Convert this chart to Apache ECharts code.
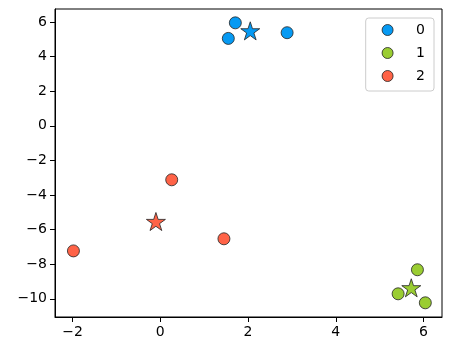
<!DOCTYPE html>
<html>
<head>
<meta charset="utf-8">
<script src="https://cdn.jsdelivr.net/npm/echarts@6/dist/echarts.min.js"></script>
<style>html,body{margin:0;padding:0;background:#fff}#c{width:452px;height:352px}</style>
</head>
<body>
<div id="c"></div>
<script>
const clusterNames = ['0', '1', '2'];
const clusterColors = ['#069AF3', '#9ACD32', '#FF6347'];
const points0 = [[1.71, 5.95], [1.55, 5.05], [2.89, 5.38]];
const points1 = [[5.86, -8.32], [5.42, -9.71], [6.04, -10.23]];
const points2 = [[0.26, -3.12], [-1.98, -7.23], [1.45, -6.53]];
const centroids = [[2.05, 5.43], [5.72, -9.42], [-0.10, -5.59]];
const xTicks = [-2, 0, 2, 4, 6];
const yTicks = [-10, -8, -6, -4, -2, 0, 2, 4, 6];
const xRange = [-2.40, 6.42];
const yRange = [-11.05, 6.75];

const starPath = 'path://M0,-100L22.45,-30.9L95.1,-30.9L36.3,11.8L58.8,80.9L0,38.2L-58.8,80.9L-36.3,11.8L-95.1,-30.9L-22.45,-30.9Z';
const fmt = v => String(v).replace('-', '\u2212');
const font = 'DejaVu Sans';

const pointSets = [points0, points1, points2];
const series = pointSets.map((pts, i) => ({
  name: clusterNames[i],
  type: 'scatter',
  data: pts,
  symbol: 'circle',
  symbolSize: 12,
  itemStyle: { color: clusterColors[i], borderColor: '#222', borderWidth: 0.8, opacity: 1 },
  z: 2
}));
centroids.forEach((c, i) => {
  series.push({
    name: 'centroid' + i,
    type: 'scatter',
    data: [c],
    symbol: starPath,
    symbolKeepAspect: true,
    symbolSize: 19,
    symbolOffset: [0, -1],
    itemStyle: { color: clusterColors[i], borderColor: '#222', borderWidth: 0.8, opacity: 1 },
    z: 3
  });
});

const axisCommon = {
  type: 'value',
  splitLine: { show: false },
  axisLine: { show: true, onZero: false, lineStyle: { color: '#000', width: 1 } },
  axisTick: { show: true, inside: false, length: 5, lineStyle: { color: '#000', width: 1 } },
  axisLabel: { color: '#000', fontFamily: font, fontSize: 14, formatter: fmt }
};

const chart = echarts.init(document.getElementById('c'), null, { renderer: 'canvas' });
chart.setOption({
  animation: false,
  backgroundColor: '#fff',
  grid: { left: 55, right: 10, top: 9, bottom: 35, show: true, borderColor: '#000', borderWidth: 1 },
  xAxis: Object.assign({}, axisCommon, {
    min: xRange[0], max: xRange[1],
    axisTick: Object.assign({}, axisCommon.axisTick, { customValues: xTicks }),
    axisLabel: Object.assign({}, axisCommon.axisLabel, { customValues: xTicks, margin: 8 })
  }),
  yAxis: Object.assign({}, axisCommon, {
    min: yRange[0], max: yRange[1],
    axisTick: Object.assign({}, axisCommon.axisTick, { customValues: yTicks }),
    axisLabel: Object.assign({}, axisCommon.axisLabel, { customValues: yTicks, margin: 8 })
  }),
  legend: {
    data: clusterNames.map(n => ({ name: n, icon: 'circle' })),
    orient: 'vertical',
    right: 18,
    top: 18,
    itemWidth: 11,
    itemHeight: 11,
    itemGap: 9,
    padding: [5, 9, 8, 16],
    borderColor: '#cccccc',
    borderWidth: 1,
    borderRadius: 3,
    backgroundColor: 'rgba(255,255,255,0.8)',
    itemStyle: { borderColor: '#222', borderWidth: 0.8 },
    textStyle: { color: '#000', fontFamily: font, fontSize: 14, padding: [0, 0, 0, 18], lineHeight: 14 }
  },
  series: series
});
</script>
</body>
</html>
